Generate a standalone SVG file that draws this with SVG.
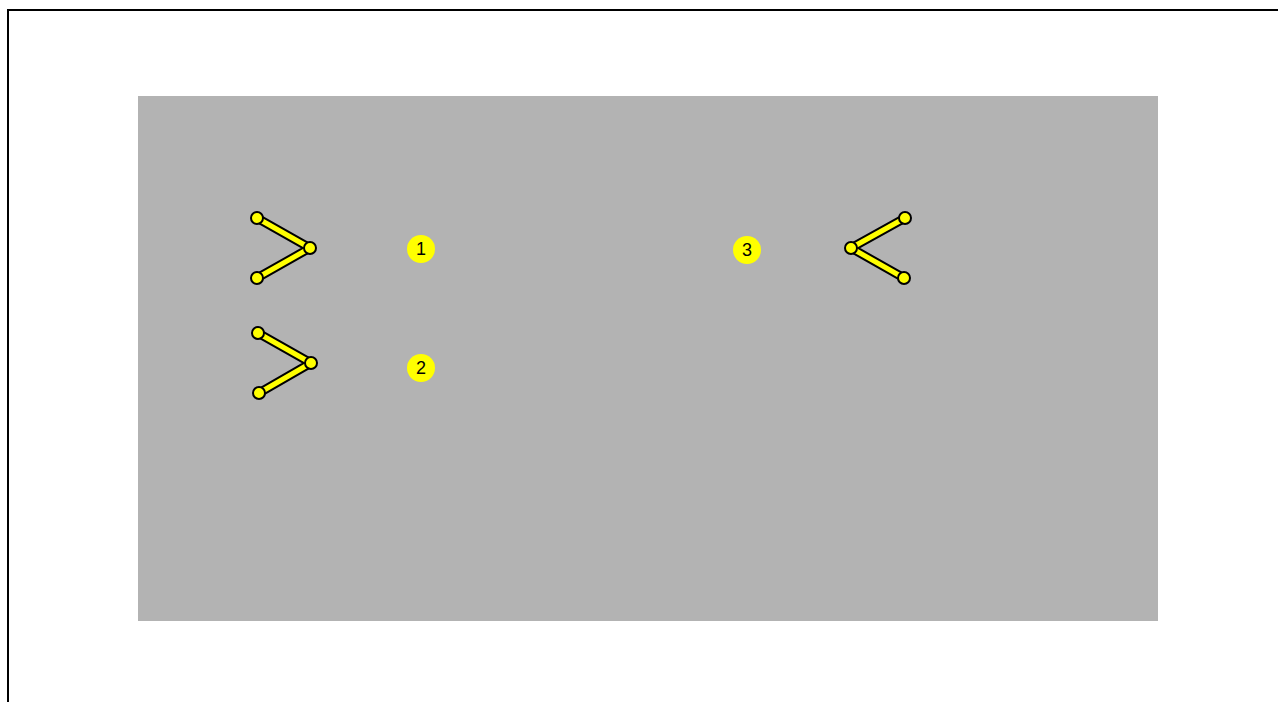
<svg xmlns="http://www.w3.org/2000/svg" width="1278" height="702" viewBox="0 0 1278 702">
<style>
.frame{fill:none;stroke:#000;stroke-width:2}
.outline{fill:none;stroke:#000;stroke-width:9;stroke-linecap:round;stroke-linejoin:round}
.inner{fill:none;stroke:#ffff00;stroke-width:5;stroke-linecap:round;stroke-linejoin:round}
.dot{fill:#ffff00;stroke:#000;stroke-width:2}
.badge{fill:#ffff00}
.num{font-family:"Liberation Sans",Arial,sans-serif;font-size:18px;fill:#000;text-anchor:middle;dominant-baseline:central}
</style>
<path class="frame" d="M8 702 V10 H1278"/>
<rect x="138" y="96" width="1020" height="525" fill="#b3b3b3"/>
<g id="connectors">
<g id="shape1">
<polyline class="outline" points="257,218 310,248 257,278"/>
<polyline class="inner" points="257,218 310,248 257,278"/>
<circle class="dot" cx="257" cy="218" r="6"/><circle class="dot" cx="310" cy="248" r="6"/><circle class="dot" cx="257" cy="278" r="6"/>
</g>
<g id="shape2">
<polyline class="outline" points="258,333 311,363 259,393"/>
<polyline class="inner" points="258,333 311,363 259,393"/>
<circle class="dot" cx="258" cy="333" r="6"/><circle class="dot" cx="311" cy="363" r="6"/><circle class="dot" cx="259" cy="393" r="6"/>
</g>
<g id="shape3">
<polyline class="outline" points="905,218 851,248 904,278"/>
<polyline class="inner" points="905,218 851,248 904,278"/>
<circle class="dot" cx="905" cy="218" r="6"/><circle class="dot" cx="851" cy="248" r="6"/><circle class="dot" cx="904" cy="278" r="6"/>
</g>
</g>
<g id="node1"><circle class="badge" cx="421" cy="249" r="14"/><text class="num" x="421" y="249">1</text></g>
<g id="node2"><circle class="badge" cx="421" cy="368" r="14"/><text class="num" x="421" y="368">2</text></g>
<g id="node3"><circle class="badge" cx="747" cy="250" r="14"/><text class="num" x="747" y="250">3</text></g>
</svg>
